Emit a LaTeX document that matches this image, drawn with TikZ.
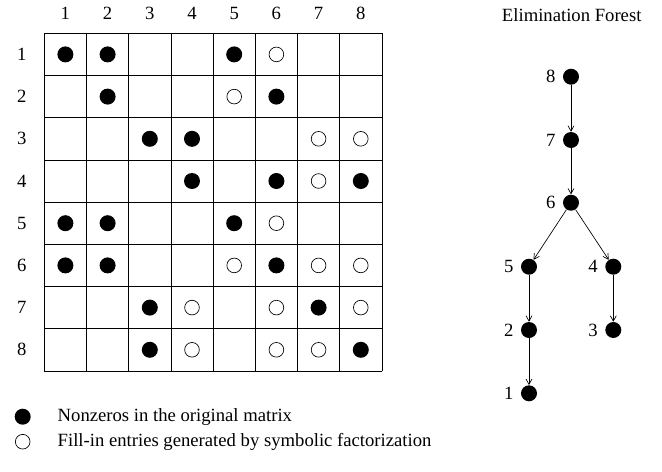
\documentclass[tikz,border=0pt]{standalone}
\usepackage{fontspec}
\setmainfont{Liberation Serif}
\usetikzlibrary{arrows.meta}

\begin{document}
\begin{tikzpicture}[
    x=0.75pt, y=-0.75pt,
    font=\fontsize{14}{16}\selectfont,
    nonzero/.style={circle, fill=black, inner sep=0pt, minimum size=12pt},
    fillin/.style={circle, draw, line width=0.5pt, fill=white, inner sep=0pt, minimum size=11pt},
    treenode/.style={circle, fill=black, inner sep=0pt, minimum size=12pt},
    treeedge/.style={-{Straight Barb[length=4pt,width=4.5pt]}, line width=0.5pt}
]
\useasboundingbox (0,0) rectangle (662,472);

% Matrix grid
\foreach \i in {0,...,8} {
    \draw[line width=0.6pt] ({44.3+42.2*\i},33.3) -- ({44.3+42.2*\i},370.9);
    \draw[line width=0.6pt] (44.3,{33.3+42.2*\i}) -- (381.9,{33.3+42.2*\i});
}

% Row and column labels
\foreach \i in {1,...,8} {
    \node (col\i) at ({44.3+42.2*(\i-0.5)},13) {\i};
    \node (row\i) at (21.7,{33.3+42.2*(\i-0.5)}) {\i};
}

% Nonzeros
\foreach \r/\cols in {1/{1,2,5}, 2/{2,6}, 3/{3,4}, 4/{4,6,8}, 5/{1,2,5}, 6/{1,2,6}, 7/{3,7}, 8/{3,8}}
    \foreach \c in \cols
        \node[nonzero] (m\r\c) at ({44.3+42.2*(\c-0.5)},{33.3+42.2*(\r-0.5)}) {};

% Fill-in entries
\foreach \r/\cols in {1/{6}, 2/{5}, 3/{7,8}, 4/{7}, 5/{6}, 6/{5,7,8}, 7/{4,6,8}, 8/{4,6,7}}
    \foreach \c in \cols
        \node[fillin] (m\r\c) at ({44.3+42.2*(\c-0.5)},{33.3+42.2*(\r-0.5)}) {};

% Legend
\node[nonzero] (keynz) at (22.7,416.7) {};
\node[anchor=west] (keynztext) at (53,416.7) {Nonzeros in the original matrix};
\node[fillin] (keyfill) at (22.7,441.7) {};
\node[anchor=west] (keyfilltext) at (53,441.7) {Fill-in entries generated by symbolic factorization};

% Elimination forest
\node (title) at (571.7,15) {Elimination Forest};
\node[treenode, label={[label distance=2pt]left:8}] (t8) at (571,76.7) {};
\node[treenode, label={[label distance=2pt]left:7}] (t7) at (571,140) {};
\node[treenode, label={[label distance=2pt]left:6}] (t6) at (571,202.7) {};
\node[treenode, label={[label distance=2pt]left:5}] (t5) at (529,266.7) {};
\node[treenode, label={[label distance=2pt]left:4}] (t4) at (613.3,266.7) {};
\node[treenode, label={[label distance=2pt]left:2}] (t2) at (529,330) {};
\node[treenode, label={[label distance=2pt]left:3}] (t3) at (613.3,330) {};
\node[treenode, label={[label distance=2pt]left:1}] (t1) at (529,393.3) {};

\draw[treeedge] (t8) -- (t7);
\draw[treeedge] (t7) -- (t6);
\draw[treeedge] (t6) -- (t5);
\draw[treeedge] (t6) -- (t4);
\draw[treeedge] (t5) -- (t2);
\draw[treeedge] (t2) -- (t1);
\draw[treeedge] (t4) -- (t3);

\end{tikzpicture}
\end{document}
